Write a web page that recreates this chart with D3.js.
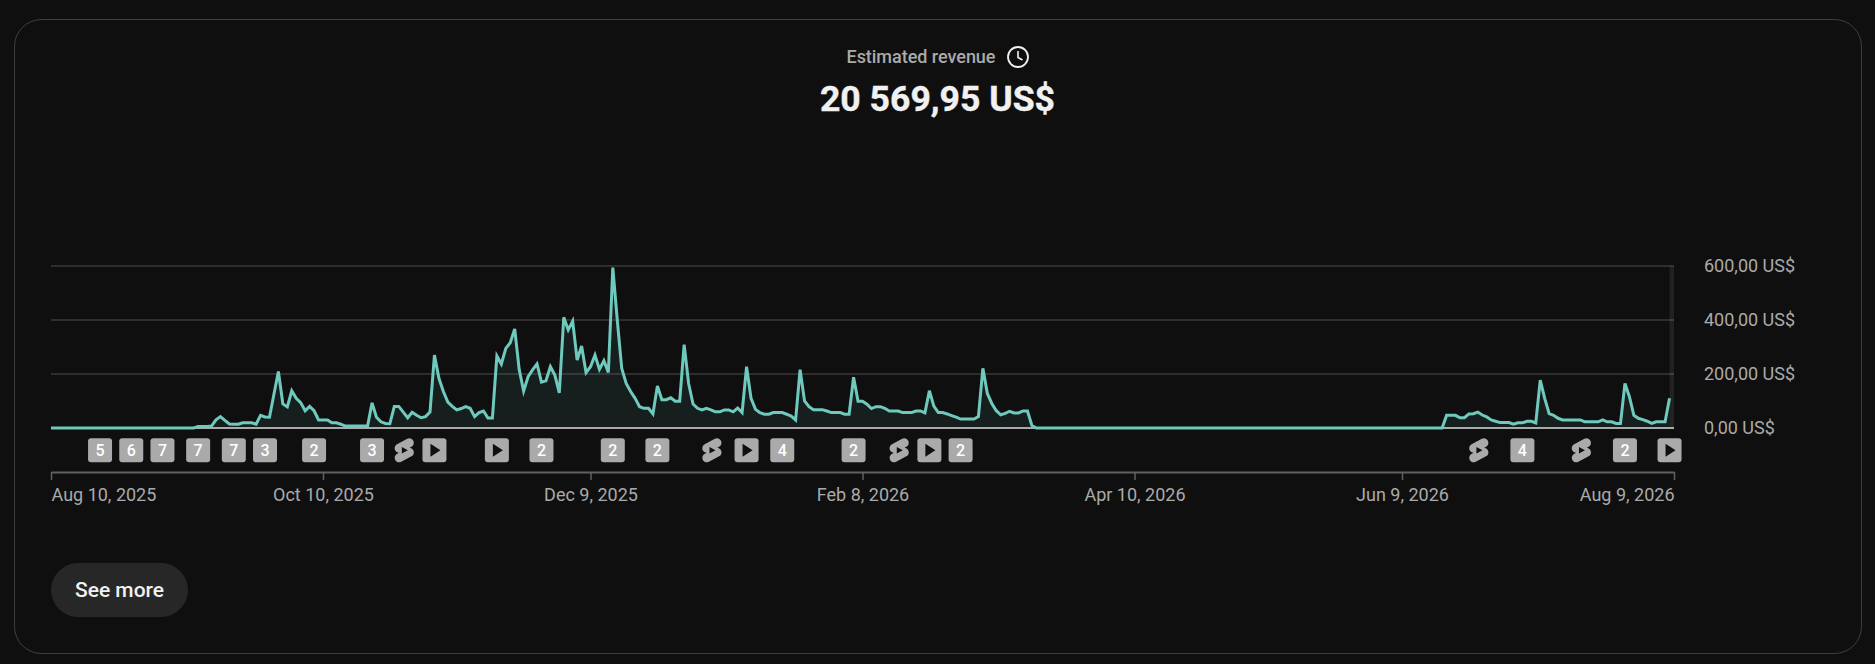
<!DOCTYPE html>
<html>
<head>
<meta charset="utf-8">
<script src="https://cdn.jsdelivr.net/npm/d3@7"></script>
<style>
html, body { margin: 0; padding: 0; background: #0f0f0f; }
svg { display: block; font-family: Roboto, sans-serif; }
</style>
</head>
<body>
<svg id="chart"></svg>
<script>
// daily revenue, first point is Aug 10, 2025
let revenue = [
  0,0,0,0,0,0,0,0,0,0,0,0,0,0,0,0,0,0,0,0,0,0,0,0,0,0,0,0,0,0,0,0,0,
  6,6,6,7,30,42,28,15,14,14,19,19,19,14,47,41,40,125,209,89,78,138,110,94,64,80,64,
  30,30,30,19,19,14,7,7,7,7,7,7,93,40,23,17,16,80,80,59,38,58,47,38,42,59,270,184,135,96,
  80,67,72,79,73,42,57,63,37,37,267,237,295,316,367,217,137,190,215,237,170,175,227,196,130,
  410,363,396,252,304,205,227,270,217,249,206,594,400,221,165,135,110,79,73,73,52,156,105,105,112,99,99,
  309,165,89,73,67,73,67,60,60,67,67,60,74,57,227,110,69,57,51,51,57,57,57,51,44,30,
  216,100,79,68,68,68,63,57,57,57,51,51,188,99,99,88,72,79,79,73,63,63,63,57,57,57,63,63,56,
  138,81,57,57,52,46,40,33,33,33,33,42,221,128,91,64,49,54,62,56,56,63,63,9,
  0,0,0,0,0,0,0,0,0,0,0,0,0,0,0,0,0,0,0,0,0,0,0,0,0,0,0,0,0,0,0,0,0,0,0,0,0,0,0,0,0,0,0,0,0,0,
  0,0,0,0,0,0,0,0,0,0,0,0,0,0,0,0,0,0,0,0,0,0,0,0,0,0,0,0,0,0,0,0,0,0,0,0,0,0,0,0,0,0,0,0,0,0,
  47,47,47,38,38,52,53,59,48,41,30,25,20,20,20,14,19,19,25,25,19,177,110,53,47,36,30,30,30,30,30,
  23,23,23,23,30,23,23,17,17,165,116,47,36,31,25,17,23,23,23,110
]

let xTickDates = ["2025-08-10","2025-10-10","2025-12-09","2026-02-08","2026-04-10","2026-06-09","2026-08-09"]
let xTickLabels = ["Aug 10, 2025","Oct 10, 2025","Dec 9, 2025","Feb 8, 2026","Apr 10, 2026","Jun 9, 2026","Aug 9, 2026"]
let yTicks = [0,200,400,600]
let yTickLabels = ["0,00 US$","200,00 US$","400,00 US$","600,00 US$"]

// content markers under the line: day index and what is in the badge
let markerDays = [11,18,25,33,41,48,59,72,79,86,100,110,126,136,148,156,164,180,190,197,204,320,330,343,353,363]
let markerKinds = ["5","6","7","7","7","3","2","3","short","video","video","2","2","2","short","video","4","2","short","video","2","short","4","short","2","video"]

let startDate = new Date(Date.UTC(2025,7,10))
let endDate = new Date(Date.UTC(2026,7,9))
let parseDay = d3.utcParse("%Y-%m-%d")

let svg = d3.select('#chart')
    .attr('width', 1875)
    .attr('height', 664)

let x = d3.scaleUtc().domain([startDate, endDate]).range([51, 1674])
let y = d3.scaleLinear().domain([0, 600]).range([428, 266])
let dayX = function(i){ return x(d3.utcDay.offset(startDate, i)) }

// card
svg.append('rect')
    .attr('x', 14.5).attr('y', 19.5)
    .attr('width', 1847).attr('height', 634)
    .attr('rx', 27)
    .attr('fill', '#0f0f0f')
    .attr('stroke', '#3f3f3f')

// header
svg.append('text')
    .attr('x', 921).attr('y', 63)
    .attr('text-anchor', 'middle')
    .attr('font-size', 18)
    .attr('font-weight', 500)
    .attr('textLength', 149)
    .attr('fill', '#aaaaaa')
    .text('Estimated revenue')

let clock = svg.append('g').attr('transform', 'translate(1018,57)')
clock.append('circle').attr('r', 10).attr('fill', 'none').attr('stroke', '#f1f1f1').attr('stroke-width', 1.8)
clock.append('path').attr('d', 'M0,-6V0.5L4.5,3').attr('fill', 'none').attr('stroke', '#f1f1f1').attr('stroke-width', 1.6)

svg.append('text')
    .attr('x', 937.5).attr('y', 110.5)
    .attr('text-anchor', 'middle')
    .attr('font-size', 35.6)
    .attr('font-weight', 700)
    .attr('stroke', '#f1f1f1')
    .attr('stroke-width', 0.4)
    .attr('fill', '#f1f1f1')
    .text('20 569,95 US$')

// gridlines and y labels
let yAxis = d3.axisRight(y)
    .tickValues(yTicks)
    .tickSize(0)
    .tickPadding(0)
    .tickFormat(function(d, i){ return yTickLabels[i] })

let yG = svg.append('g')
    .attr('transform', 'translate(1704,0)')
    .call(yAxis)
yG.select('.domain').remove()
yG.selectAll('text').attr('font-size', 18).attr('font-family', 'Roboto').attr('fill', '#aaaaaa')

svg.append('g').selectAll('line')
    .data(yTicks)
    .enter()
    .append('line')
    .attr('x1', 51).attr('x2', 1674)
    .attr('y1', function(d){ return y(d) })
    .attr('y2', function(d){ return y(d) })
    .attr('stroke', function(d){ return d == 0 ? '#aaaaaa' : '#3a3a3a' })
    .attr('stroke-width', function(d){ return d == 0 ? 2 : 1.6 })

// unfinished last day band
svg.append('rect')
    .attr('x', dayX(revenue.length - 1))
    .attr('y', y(600))
    .attr('width', x(endDate) - dayX(revenue.length - 1))
    .attr('height', y(0) - y(600))
    .attr('fill', '#ffffff')
    .attr('opacity', 0.08)

// area + line
let area = d3.area()
    .x(function(d, i){ return dayX(i) })
    .y0(y(0))
    .y1(function(d){ return y(d) })
let line = d3.line()
    .x(function(d, i){ return dayX(i) })
    .y(function(d){ return y(d) })

svg.append('path').datum(revenue)
    .attr('d', area)
    .attr('fill', '#6fc9bd')
    .attr('opacity', 0.09)
svg.append('path').datum(revenue)
    .attr('d', line)
    .attr('fill', 'none')
    .attr('stroke', '#6fc9bd')
    .attr('stroke-width', 3)
    .attr('stroke-linejoin', 'miter')

// markers
let shortsPath = "M10 14.65v-5.3L15 12l-5 2.65zm7.77-4.33c-.77-.32-1.2-.5-1.2-.5L18 9.06c1.84-.96 2.53-3.23 1.56-5.06s-3.24-2.53-5.07-1.56L6 6.94c-1.29.68-2.07 2.04-2 3.49.07 1.42.93 2.67 2.22 3.25.03.01 1.2.5 1.2.5L6 14.93c-1.83.97-2.53 3.24-1.56 5.07.97 1.83 3.24 2.53 5.07 1.56l8.5-4.5c1.29-.68 2.06-2.04 1.99-3.49-.07-1.42-.94-2.68-2.23-3.25z"

let markers = svg.append('g').selectAll('g')
    .data(markerDays)
    .enter()
    .append('g')
    .attr('transform', function(d){ return 'translate(' + dayX(d) + ',450.3)' })

markers.each(function(d, i){
    let g = d3.select(this)
    let kind = markerKinds[i]
    if(kind == 'short'){
        g.append('path')
            .attr('d', shortsPath)
            .attr('transform', 'translate(-13.4,-14.4) scale(1.2)')
            .attr('fill', '#aaaaaa')
        return
    }
    g.append('rect')
        .attr('x', -12).attr('y', -12)
        .attr('width', 24).attr('height', 24)
        .attr('rx', 3)
        .attr('fill', '#aaaaaa')
    if(kind == 'video'){
        g.append('path').attr('d', 'M-4,-6.5L6,0L-4,6.5Z').attr('fill', '#0f0f0f')
    } else {
        g.append('text')
            .attr('text-anchor', 'middle')
            .attr('y', 5.5)
            .attr('font-size', 16)
            .attr('font-weight', 500)
            .attr('fill', '#ffffff')
            .text(kind)
    }
})

// x axis
let xAxis = d3.axisBottom(x)
    .tickValues(xTickDates.map(parseDay))
    .tickSize(8)
    .tickSizeOuter(0)
    .tickPadding(8)
    .tickFormat(function(d, i){ return xTickLabels[i] })

let xG = svg.append('g')
    .attr('transform', 'translate(0,472)')
    .call(xAxis)
xG.select('.domain').attr('stroke', '#606060').attr('stroke-width', 2)
xG.selectAll('.tick line').attr('stroke', '#606060').attr('stroke-width', 1.5)
xG.selectAll('text')
    .attr('font-size', 18)
    .attr('font-family', 'Roboto')
    .attr('fill', '#aaaaaa')
    .attr('text-anchor', function(d, i){
        if(i == 0) return 'start'
        if(i == xTickDates.length - 1) return 'end'
        return 'middle'
    })

// see more button
svg.append('rect')
    .attr('x', 51).attr('y', 563)
    .attr('width', 137).attr('height', 54)
    .attr('rx', 27)
    .attr('fill', '#272727')
svg.append('text')
    .attr('x', 119.5).attr('y', 596.5)
    .attr('text-anchor', 'middle')
    .attr('font-size', 21)
    .attr('font-weight', 500)
    .attr('fill', '#f1f1f1')
    .text('See more')
</script>
</body>
</html>
